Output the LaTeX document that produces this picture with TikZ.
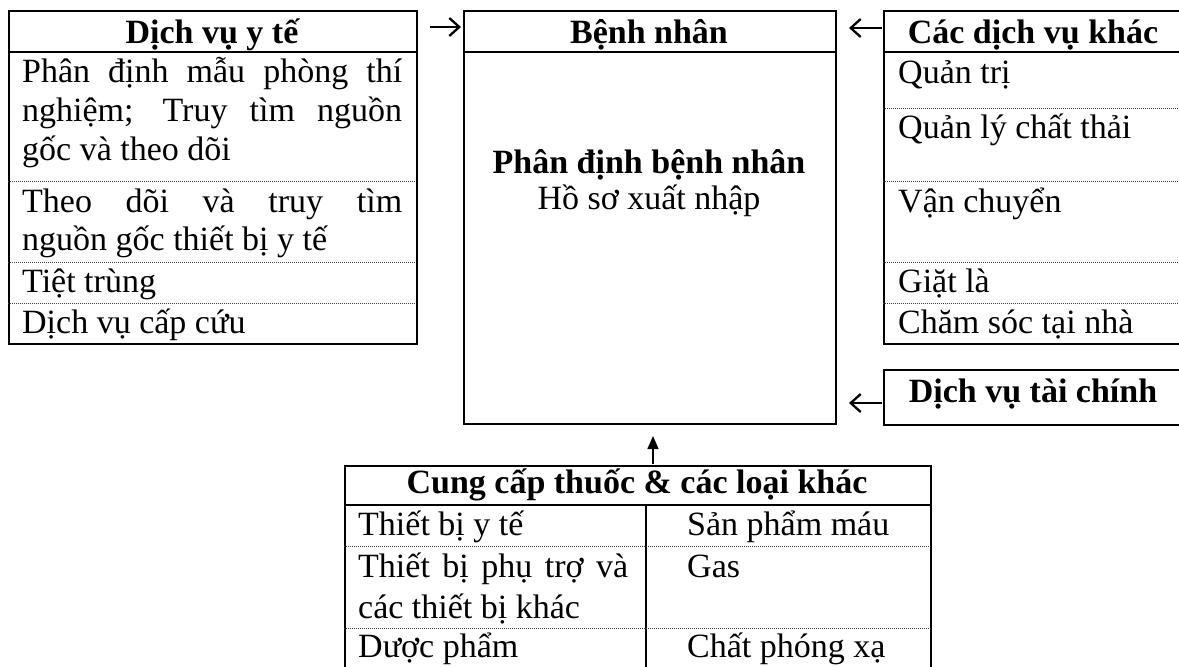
\documentclass[tikz,border=0pt]{standalone}
\usepackage{fontspec}
\setmainfont{Liberation Serif}
\usetikzlibrary{arrows.meta}
\tikzset{
  box/.style={draw, line width=1.7pt, inner sep=0pt, anchor=north west},
  sep/.style={line width=1.7pt},
  dots/.style={line width=0.8pt, dash pattern=on 1pt off 1pt, black!75},
  txt/.style={inner sep=0pt, anchor=base west, font=\fontsize{34}{39}\selectfont},
  ctxt/.style={inner sep=0pt, anchor=base, font=\fontsize{34}{39}\selectfont},
  hdr/.style={inner sep=0pt, anchor=base, font=\fontsize{34}{39}\selectfont\bfseries},
  glypharrow/.style={line width=2.3pt, -{Straight Barb[length=10pt,width=18pt,line width=2.3pt]}},
  uparrow/.style={line width=1.5pt, -{Triangle[length=13pt,width=11pt]}}
}
\begin{document}
\begin{tikzpicture}[x=1pt,y=-1pt]
\path[use as bounding box, clip] (0,0) rectangle (1179,667);
\fill[white] (0,0) rectangle (1179,667);

% ---------- left box: Dich vu y te ----------
\node[box, minimum width=408pt, minimum height=333pt] (med) at (8,10) {};
\draw[sep] (8,52) -- (416,52);
\draw[dots] (8,181) -- (416,181);
\draw[dots] (8,262) -- (416,262);
\draw[dots] (8,303) -- (416,303);
\node[hdr] (medh) at (212,43) {Dịch vụ y tế};
\node[txt] (m1a) at (22,82) {\makebox[380pt][s]{Phân định mẫu phòng thí}};
\node[txt] (m1b) at (22,121) {\makebox[380pt][s]{nghiệm; Truy tìm nguồn}};
\node[txt] (m1c) at (22,160) {gốc và theo dõi};
\node[txt] (m2a) at (22,212) {\makebox[380pt][s]{Theo dõi và truy tìm}};
\node[txt] (m2b) at (22,250) {nguồn gốc thiết bị y tế};
\node[txt] (m3) at (22,292) {Tiệt trùng};
\node[txt] (m4) at (22,333) {Dịch vụ cấp cứu};

% ---------- centre box: Benh nhan ----------
\node[box, minimum width=372pt, minimum height=413pt] (pat) at (463,10) {};
\draw[sep] (463,52) -- (835,52);
\node[hdr] (path) at (649,43) {Bệnh nhân};
\node[hdr] (p1) at (649,173) {Phân định bệnh nhân};
\node[ctxt] (p2) at (649,209) {Hồ sơ xuất nhập};

% ---------- right box: Cac dich vu khac ----------
\node[box, minimum width=300pt, minimum height=333pt] (oth) at (883,10) {};
\draw[sep] (883,52) -- (1183,52);
\draw[dots] (883,108) -- (1183,108);
\draw[dots] (883,181) -- (1183,181);
\draw[dots] (883,262) -- (1183,262);
\draw[dots] (883,303) -- (1183,303);
\node[hdr] (othh) at (1033,43) {Các dịch vụ khác};
\node[txt] (o1) at (898,83) {Quản trị};
\node[txt] (o2) at (898,138) {Quản lý chất thải};
\node[txt] (o3) at (898,212) {Vận chuyển};
\node[txt] (o4) at (898,292) {Giặt là};
\node[txt] (o5) at (898,333) {Chăm sóc tại nhà};

% ---------- financial box ----------
\node[box, minimum width=300pt, minimum height=55pt] (fin) at (883,369) {};
\node[hdr] (finh) at (1033,402) {Dịch vụ tài chính};

% ---------- bottom table ----------
\node[box, minimum width=586pt, minimum height=220pt] (sup) at (344,465) {};
\draw[sep] (344,505) -- (930,505);
\draw[sep] (646,505) -- (646,690);
\draw[dots] (344,546) -- (930,546);
\draw[dots] (344,628) -- (930,628);
\node[hdr] (suph) at (637,493) {Cung cấp thuốc \& các loại khác};
\node[txt] (s1) at (358,535) {Thiết bị y tế};
\node[txt] (s2a) at (358,577) {\makebox[270pt][s]{Thiết bị phụ trợ và}};
\node[txt] (s2b) at (358,618) {các thiết bị khác};
\node[txt] (s3) at (358,657) {Dược phẩm};
\node[txt] (r1) at (687,535) {Sản phẩm máu};
\node[txt] (r2) at (687,577) {Gas};
\node[txt] (r3) at (687,657) {Chất phóng xạ};

% ---------- arrows ----------
\coordinate (aL1) at (430,27);
\coordinate (aL2) at (461,27);
\coordinate (aR1) at (882,28);
\coordinate (aR2) at (849,28);
\coordinate (aF1) at (882,403);
\coordinate (aF2) at (849,403);
\coordinate (aU1) at (653,464);
\coordinate (aU2) at (653,436);
\draw[glypharrow] (aL1) -- (aL2);
\draw[glypharrow] (aR1) -- (aR2);
\draw[glypharrow] (aF1) -- (aF2);
\draw[uparrow] (aU1) -- (aU2);
\end{tikzpicture}
\end{document}
